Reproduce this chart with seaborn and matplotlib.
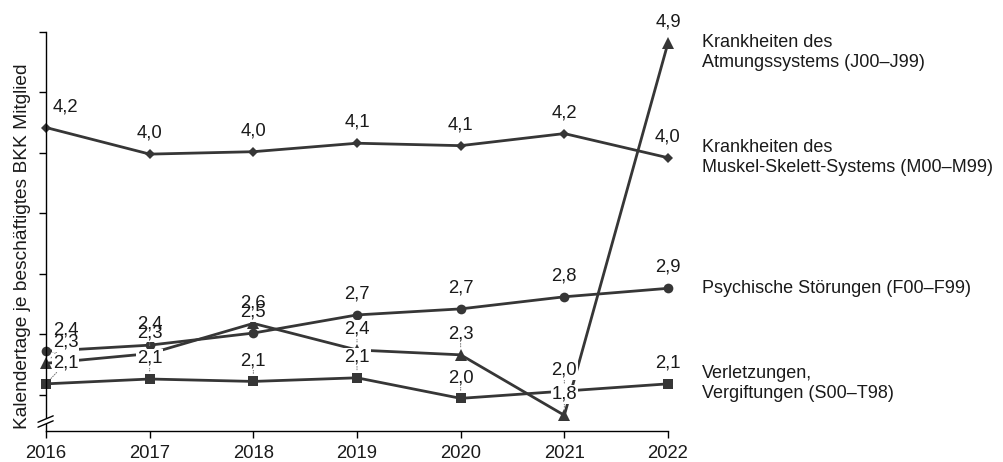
import matplotlib
matplotlib.use("Agg")
import matplotlib.pyplot as plt
import seaborn as sns
from matplotlib.patches import Rectangle

# Data (Kalendertage je beschaeftigtes BKK Mitglied)
years = [2016, 2017, 2018, 2019, 2020, 2021, 2022]
atmung = [2.26, 2.34, 2.59, 2.37, 2.33, 1.83, 4.91]
muskel = [4.21, 3.99, 4.01, 4.08, 4.06, 4.16, 3.96]
psyche = [2.36, 2.41, 2.51, 2.66, 2.71, 2.81, 2.88]
verletz = [2.09, 2.13, 2.11, 2.14, 1.97, 2.03, 2.09]

series_names = [
    "Krankheiten des\nAtmungssystems (J00–J99)",
    "Krankheiten des\nMuskel-Skelett-Systems (M00–M99)",
    "Psychische Störungen (F00–F99)",
    "Verletzungen,\nVergiftungen (S00–T98)",
]

sns.set_style("white")
plt.rcParams["font.family"] = ["Liberation Sans", "DejaVu Sans"]

LINE = "#363636"
TXT = "#1a1a1a"
FS = 13.3

fig = plt.figure(figsize=(10.04, 4.62), dpi=100)
ax = fig.add_axes([46 / 1004, 31 / 462, 622 / 1004, 399 / 462])

# series: values, marker, markersize, leader lines, offset of end label
series = [
    (atmung, "^", 8, True, -7),
    (muskel, "D", 5.5, False, 0),
    (psyche, "o", 7, False, 0),
    (verletz, "s", 6.5, True, 0),
]

for vals, mk, ms, leader, endoff in series:
    sns.lineplot(x=years, y=vals, ax=ax, color=LINE, lw=2, marker=mk,
                 markersize=ms, markeredgewidth=0, markerfacecolor=LINE)

for line in ax.lines:
    line.set_clip_on(False)

# data labels: white box layer (hides lines), text layer on top
for vals, mk, ms, leader, endoff in series:
    for x, v in zip(years, vals):
        txt = f"{v:.1f}".replace(".", ",")
        dx = 14 if x == 2016 else 0
        ap = None
        if leader and x != 2022:
            ap = dict(arrowstyle="-", color="#777777", lw=0.7,
                      linestyle=(0, (1, 1.5)), shrinkA=0, shrinkB=5)
        ax.annotate(txt, (x, v), xytext=(dx, 15), textcoords="offset points",
                    ha="center", va="center", fontsize=FS, color="none",
                    bbox=dict(boxstyle="square,pad=0.05", fc="white", ec="none"),
                    arrowprops=ap, zorder=4, annotation_clip=False)
        ax.annotate(txt, (x, v), xytext=(dx, 15), textcoords="offset points",
                    ha="center", va="center", fontsize=FS, color=TXT,
                    zorder=5, annotation_clip=False)

# series names at the right end
for (vals, mk, ms, leader, endoff), name in zip(series, series_names):
    ax.annotate(name, (years[-1], vals[-1]), xytext=(24.5, endoff),
                textcoords="offset points", ha="left", va="center",
                fontsize=13, color=TXT, linespacing=1.24, annotation_clip=False)

ax.set_xlim(2016, 2022)
ax.set_ylim(1.7, 5.0)
ax.set_xticks(years)
ax.set_xticklabels([str(y) for y in years], fontsize=FS, color=TXT)
ax.set_yticks([2.0, 2.5, 3.0, 3.5, 4.0, 4.5, 5.0])
ax.set_yticklabels([])
ax.tick_params(axis="both", direction="out", length=5, width=1, color="black",
               left=True, bottom=True)
ax.tick_params(axis="x", pad=5)

sns.despine(ax=ax)
for s in ["left", "bottom"]:
    ax.spines[s].set_color("black")
    ax.spines[s].set_linewidth(1)

ax.set_ylabel("Kalendertage je beschäftigtes BKK Mitglied", fontsize=13.8, color=TXT)
ax.yaxis.set_label_coords(-0.024, 0.462)

# axis break marker
hx = 8 / 622
ax.add_patch(Rectangle((-0.004, 0.0175), 0.008, 0.0125, transform=ax.transAxes,
                       fc="white", ec="none", clip_on=False, zorder=6))
for yb in (0.0175, 0.030):
    ax.plot([-hx, hx * 0.9], [yb - 0.008, yb + 0.008], transform=ax.transAxes,
            color="black", lw=1, clip_on=False, zorder=7)

fig.savefig("out.png", dpi=100)
